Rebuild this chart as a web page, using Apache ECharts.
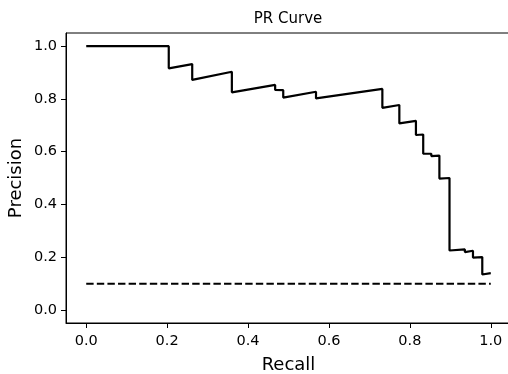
<!DOCTYPE html>
<html>
<head>
<meta charset="utf-8">
<script src="https://cdn.jsdelivr.net/npm/echarts@6/dist/echarts.min.js"></script>
<style>
html,body{margin:0;padding:0;background:#fff;}
#chart{width:508px;height:374px;}
</style>
</head>
<body>
<div id="chart"></div>
<script>
var recall = [0.0, 0.204, 0.204, 0.262, 0.262, 0.360, 0.360, 0.467, 0.467, 0.487, 0.487, 0.568, 0.568, 0.732, 0.732, 0.774, 0.774, 0.815, 0.815, 0.833, 0.833, 0.853, 0.853, 0.873, 0.873, 0.898, 0.898, 0.936, 0.936, 0.956, 0.956, 0.979, 0.979, 1.0];
var precision = [1.0, 1.0, 0.916, 0.932, 0.872, 0.903, 0.825, 0.853, 0.834, 0.833, 0.805, 0.827, 0.802, 0.838, 0.766, 0.777, 0.707, 0.717, 0.663, 0.665, 0.592, 0.592, 0.583, 0.585, 0.498, 0.500, 0.225, 0.229, 0.219, 0.224, 0.198, 0.200, 0.134, 0.139];
var baselineX = [0.0, 1.0];
var baselineY = [0.099, 0.099];
var tickValues = [0.0, 0.2, 0.4, 0.6, 0.8, 1.0];

function zip(a, b) { return a.map(function (v, i) { return [v, b[i]]; }); }

var font = 'DejaVu Sans';
var chart = echarts.init(document.getElementById('chart'), null, {renderer: 'canvas'});
chart.setOption({
  animation: false,
  backgroundColor: '#fff',
  title: {
    text: 'PR Curve', left: 288, top: 12, padding: 0, textAlign: 'center',
    textStyle: {fontFamily: font, fontSize: 15, fontWeight: 'normal', color: '#000'}
  },
  grid: {left: 66, top: 33, width: 445, height: 290, containLabel: false, outerBoundsMode: 'none',
    show: true, borderColor: '#000', borderWidth: 1, backgroundColor: 'transparent'},
  xAxis: {
    type: 'value', min: -0.05, max: 1.05,
    name: 'Recall', nameLocation: 'middle', nameGap: 33, nameMoveOverlap: false,
    nameTextStyle: {fontFamily: font, fontSize: 18, color: '#000'},
    axisLine: {show: true, onZero: false, lineStyle: {color: '#000', width: 1}},
    axisTick: {show: true, inside: false, length: 5, customValues: tickValues, lineStyle: {color: '#000', width: 1}},
    axisLabel: {customValues: tickValues, margin: 11, fontFamily: font, fontSize: 14.5, color: '#000', formatter: function (v) { return v.toFixed(1); }},
    splitLine: {show: false}
  },
  yAxis: {
    type: 'value', min: -0.05, max: 1.05,
    name: 'Precision', nameLocation: 'middle', nameGap: 41, nameMoveOverlap: false,
    nameTextStyle: {fontFamily: font, fontSize: 18, color: '#000'},
    axisLine: {show: true, onZero: false, lineStyle: {color: '#000', width: 1}},
    axisTick: {show: true, inside: false, length: 5, customValues: tickValues, lineStyle: {color: '#000', width: 1}},
    axisLabel: {customValues: tickValues, margin: 9, fontFamily: font, fontSize: 14.5, color: '#000', formatter: function (v) { return v.toFixed(1); }},
    splitLine: {show: false}
  },
  series: [
    {
      type: 'line', data: zip(recall, precision), showSymbol: false, symbol: 'none',
      lineStyle: {color: '#000', width: 2.2}, silent: true
    },
    {
      type: 'line', data: zip(baselineX, baselineY), showSymbol: false, symbol: 'none',
      lineStyle: {color: '#000', width: 2, type: [7.4, 3.2]}, silent: true
    }
  ]
});
</script>
</body>
</html>
